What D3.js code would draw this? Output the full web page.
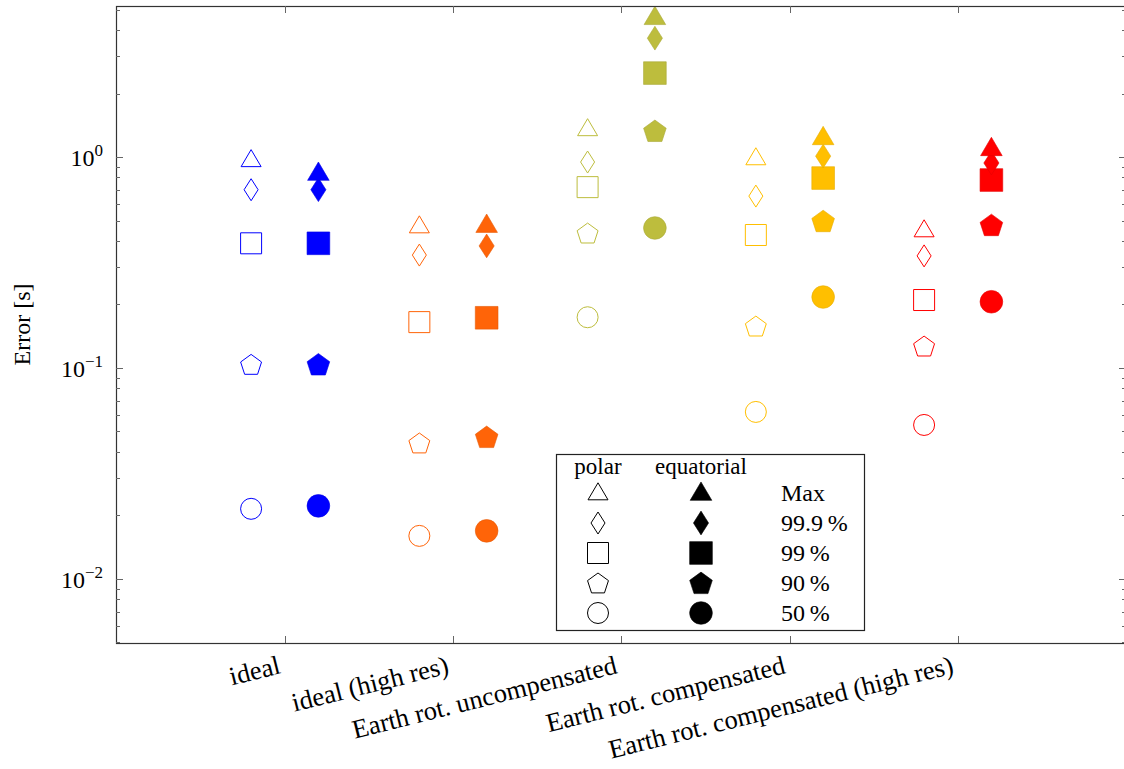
<!DOCTYPE html>
<html>
<head>
<meta charset="utf-8">
<script src="https://cdn.jsdelivr.net/npm/d3@7"></script>
<style>
  body { margin: 0; background: #fff; }
  text { font-family: "Liberation Serif", "DejaVu Serif", serif; fill: #000; }
</style>
</head>
<body>
<script>
// categories along x
var categories = ["ideal", "ideal (high res)", "Earth rot. uncompensated",
                  "Earth rot. compensated", "Earth rot. compensated (high res)"];
var colors = ["#0000ff", "#ff6408", "#bdbd3d", "#ffbf00", "#ff0000"];

// polar values per category
var polarMax = [0.97, 0.471, 1.36, 0.99, 0.451];
var polar999 = [0.70, 0.343, 0.947, 0.653, 0.34];
var polar99  = [0.39, 0.165, 0.72, 0.427, 0.21];
var polar90  = [0.104, 0.0441, 0.436, 0.158, 0.127];
var polar50  = [0.0215, 0.016, 0.174, 0.0619, 0.0537];

// equatorial values per category
var eqMax = [0.84, 0.476, 4.6, 1.24, 1.10];
var eq999 = [0.70, 0.379, 3.66, 1.01, 0.937];
var eq99  = [0.39, 0.173, 2.50, 0.795, 0.778];
var eq90  = [0.104, 0.0471, 1.33, 0.497, 0.476];
var eq50  = [0.0222, 0.0169, 0.461, 0.217, 0.206];

var legendLabels = ["Max", "99.9\u2009%", "99\u2009%", "90\u2009%", "50\u2009%"];
var yTickValues = [0.01, 0.1, 1];
var yTickExp = ["\u22122", "\u22121", "0"];

var W = 1124, H = 769;
var margin = { top: 6, left: 116 }, plotRight = 1126, plotBottom = 643;

var svg = d3.select("body").append("svg")
    .attr("width", W).attr("height", H);

var x = d3.scaleLinear().domain([0, 6]).range([margin.left + 0.5, plotRight]);
var y = d3.scaleLog().domain([0.00497, 5.2]).range([plotBottom, margin.top]);

// marker shapes (centered at 0,0)
function shapePath(kind, filled) {
  var s = filled ? 1.08 : 1;
  if (kind == "tri") {
    var w = 10 * s, h = 17 * s;
    return "M0," + (-h * 0.6) + "L" + w + "," + (h * 0.4) + "L" + (-w) + "," + (h * 0.4) + "Z";
  }
  if (kind == "dia") {
    var w = 7 * s, h = 11 * s;
    return "M0," + (-h) + "L" + w + ",0L0," + h + "L" + (-w) + ",0Z";
  }
  if (kind == "sq") {
    var a = 10.5 * s;
    return "M" + (-a) + "," + (-a) + "H" + a + "V" + a + "H" + (-a) + "Z";
  }
  if (kind == "pent") {
    var r = 11 * s, p = [];
    for (var i = 0; i < 5; i++) {
      var ang = -Math.PI / 2 + i * 2 * Math.PI / 5;
      p.push([r * Math.cos(ang), r * Math.sin(ang) + 1]);
    }
    return d3.line()(p) + "Z";
  }
  var r = 10.5 * s;
  return "M" + r + ",0A" + r + "," + r + " 0 1,1 " + (-r) + ",0A" + r + "," + r + " 0 1,1 " + r + ",0Z";
}

var seriesPolar = [["circ", polar50], ["pent", polar90], ["sq", polar99], ["dia", polar999], ["tri", polarMax]];
var seriesEq = [["circ", eq50], ["pent", eq90], ["sq", eq99], ["dia", eq999], ["tri", eqMax]];

var marks = svg.append("g");
seriesPolar.forEach(function(s) {
  marks.selectAll(null).data(s[1]).enter().append("path")
    .attr("d", shapePath(s[0], false))
    .attr("transform", function(d, i) { return "translate(" + x(i + 1 - 0.2) + "," + y(d) + ")"; })
    .attr("fill", "none")
    .attr("stroke", function(d, i) { return colors[i]; })
    .attr("stroke-width", 1);
});
seriesEq.forEach(function(s) {
  marks.selectAll(null).data(s[1]).enter().append("path")
    .attr("d", shapePath(s[0], true))
    .attr("transform", function(d, i) { return "translate(" + x(i + 1 + 0.2) + "," + y(d) + ")"; })
    .attr("fill", function(d, i) { return colors[i]; })
    .attr("stroke", function(d, i) { return d3.color(colors[i]).darker(0.3); })
    .attr("stroke-width", 0.6);
});

// frame
svg.append("rect")
    .attr("x", margin.left + 0.5).attr("y", margin.top + 0.5)
    .attr("width", plotRight - margin.left).attr("height", plotBottom - margin.top)
    .attr("fill", "none").attr("stroke", "#333").attr("stroke-width", 1.2);

// y ticks (log), inward on both sides
var minor = [];
for (var e = -3; e <= 0; e++) {
  for (var k = 2; k <= 9; k++) {
    var v = k * Math.pow(10, e);
    if (v > 0.00497 && v < 5.2) minor.push(v);
  }
}
var ticks = svg.append("g").attr("stroke", "#666").attr("stroke-width", 1);
minor.forEach(function(v) {
  ticks.append("line").attr("x1", margin.left).attr("x2", margin.left + 4)
    .attr("y1", Math.round(y(v)) + 0.5).attr("y2", Math.round(y(v)) + 0.5);
  ticks.append("line").attr("x1", plotRight - 4).attr("x2", plotRight)
    .attr("y1", Math.round(y(v)) + 0.5).attr("y2", Math.round(y(v)) + 0.5);
});
yTickValues.forEach(function(v) {
  ticks.append("line").attr("x1", margin.left).attr("x2", margin.left + 7)
    .attr("y1", Math.round(y(v)) + 0.5).attr("y2", Math.round(y(v)) + 0.5);
  ticks.append("line").attr("x1", plotRight - 7).attr("x2", plotRight)
    .attr("y1", Math.round(y(v)) + 0.5).attr("y2", Math.round(y(v)) + 0.5);
});
categories.forEach(function(c, i) {
  var xx = Math.round(x(i + 1)) + 0.5;
  ticks.append("line").attr("x1", xx).attr("x2", xx)
    .attr("y1", plotBottom).attr("y2", plotBottom - 7);
  ticks.append("line").attr("x1", xx).attr("x2", xx)
    .attr("y1", margin.top).attr("y2", margin.top + 7);
});

// y tick labels
yTickValues.forEach(function(v, i) {
  var t = svg.append("text")
    .attr("x", 103).attr("y", y(v) + 9)
    .attr("text-anchor", "end").style("font-size", "24px");
  t.append("tspan").text("10");
  t.append("tspan").attr("dy", -10).style("font-size", "17px").text(yTickExp[i]);
});

// y label
svg.append("text")
    .attr("transform", "translate(30," + ((margin.top + plotBottom) / 2) + ") rotate(-90)")
    .attr("text-anchor", "middle").style("font-size", "24px")
    .text("Error [s]");

// category labels, rotated
categories.forEach(function(c, i) {
  svg.append("text")
    .attr("transform", "translate(" + (x(i + 1) - 3) + ",673) rotate(-14)")
    .attr("text-anchor", "end")
    .style("font-size", "26.5px")
    .text(c);
});

// legend
var lg = svg.append("g").attr("transform", "translate(556,454)");
lg.append("rect").attr("x", 0.5).attr("y", 0.5).attr("width", 308).attr("height", 176)
  .attr("fill", "#fff").attr("stroke", "#222").attr("stroke-width", 1.2);
lg.append("text").attr("x", 42).attr("y", 20).attr("text-anchor", "middle")
  .style("font-size", "23px").text("polar");
lg.append("text").attr("x", 145).attr("y", 20).attr("text-anchor", "middle")
  .style("font-size", "23px").text("equatorial");
var legendShapes = ["tri", "dia", "sq", "pent", "circ"];
legendShapes.forEach(function(s, i) {
  var yy = 39 + i * 30;
  lg.append("path").attr("d", shapePath(s, false))
    .attr("transform", "translate(42," + yy + ")")
    .attr("fill", "#fff").attr("stroke", "#000").attr("stroke-width", 1);
  lg.append("path").attr("d", shapePath(s, true))
    .attr("transform", "translate(145," + yy + ")")
    .attr("fill", "#000").attr("stroke", "#000").attr("stroke-width", 0.6);
  lg.append("text").attr("x", 225).attr("y", yy + 8)
    .style("font-size", "24px").text(legendLabels[i]);
});
</script>
</body>
</html>
